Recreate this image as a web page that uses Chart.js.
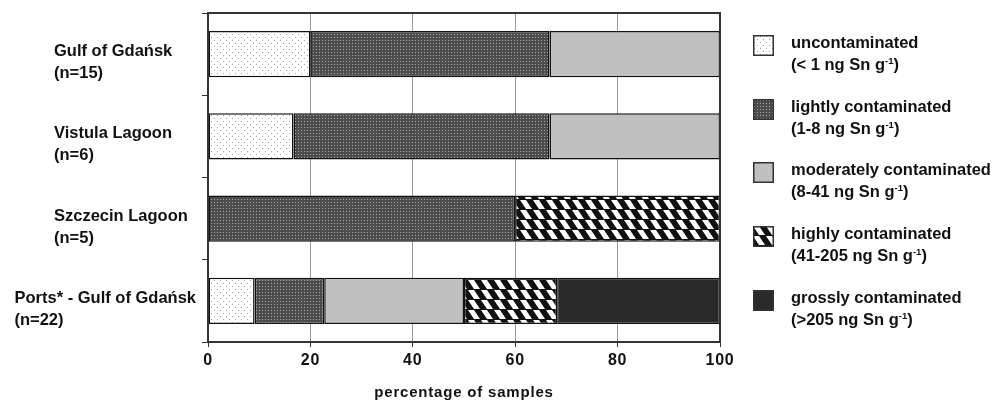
<!DOCTYPE html>
<html><head><meta charset="utf-8">
<script src="https://cdn.jsdelivr.net/npm/chart.js@4.4.0/dist/chart.umd.min.js"></script>
<style>
body{margin:0;background:#fff;}
#wrap{position:relative;width:993px;height:400px;overflow:hidden;}
#legend{position:absolute;left:753px;top:35px;font:bold 16.5px "Liberation Sans",Arial,sans-serif;color:#111;}
.item{position:absolute;left:0;width:240px;height:50px;}
.item canvas{position:absolute;left:0;top:0;}
.txt{position:absolute;left:38px;top:-4px;line-height:22px;white-space:nowrap;}
.txt sup{font-size:9.5px;vertical-align:6px;line-height:0;}
</style></head>
<body>
<div id="wrap"><canvas id="c" width="993" height="400"></canvas><div id="legend"></div></div>
<script>
const categories = [["Gulf of Gdańsk","(n=15)"],["Vistula Lagoon","(n=6)"],["Szczecin Lagoon","(n=5)"],["Ports* - Gulf of Gdańsk","(n=22)"]];
const seriesNames = ["uncontaminated","lightly contaminated","moderately contaminated","highly contaminated","grossly contaminated"];
const seriesRanges = ["< 1","1-8","8-41","41-205",">205"];
const uncontaminated = [20.0, 16.7, null, 9.1];
const lightly = [46.7, 50.0, 60.0, 13.6];
const moderately = [33.3, 33.3, null, 27.3];
const highly = [null, null, 40.0, 18.2];
const grossly = [null, null, null, 31.8];
const xTicks = [0, 20, 40, 60, 80, 100];
const xTitle = "percentage of samples";

function tile(w, h, draw){const c=document.createElement('canvas');c.width=w;c.height=h;const g=c.getContext('2d');draw(g,w,h);return c;}
const tiles = [
  tile(6,6,(g)=>{g.fillStyle='#fff';g.fillRect(0,0,6,6);g.fillStyle='#a0a0a0';g.fillRect(1,1,1,1);g.fillRect(4,4,1,1);}),
  tile(3,3,(g)=>{g.fillStyle='#4c4c4c';g.fillRect(0,0,3,3);g.fillStyle='#a8a8a8';g.fillRect(1,1,1,1);}),
  tile(4,4,(g)=>{g.fillStyle='#c0c0c0';g.fillRect(0,0,4,4);}),
  tile(13,10,(g)=>{g.fillStyle='#111';g.fillRect(0,0,13,10);g.fillStyle='#fff';
    [0,-13,13].forEach(o=>{g.beginPath();g.moveTo(o+0,0);g.lineTo(o+6,0);g.lineTo(o+12,9);g.lineTo(o+6,9);g.closePath();g.fill();});}),
  tile(4,4,(g)=>{g.fillStyle='#2a2a2a';g.fillRect(0,0,4,4);})
];
const ctx = document.getElementById('c').getContext('2d');
const patterns = tiles.map(t=>ctx.createPattern(t,'repeat'));
const seriesValues = [uncontaminated, lightly, moderately, highly, grossly];

const FONT = '"Liberation Sans", Arial, sans-serif';
const spacingPlugin = {
  id:'spacing',
  beforeDraw(chart){ chart.ctx.letterSpacing='0.8px'; },
  afterDatasetsDraw(chart){ chart.ctx.letterSpacing='0px'; }
};
const yLabelPlugin = {
  id:'yLabels',
  afterDraw(chart){
    const c=chart.ctx, y=chart.scales.y, a=chart.chartArea;
    c.save();
    c.letterSpacing='0px';
    c.font='bold 16.5px '+FONT; c.fillStyle='#111'; c.textBaseline='middle'; c.textAlign='left';
    categories.forEach((lines,i)=>{
      const w=Math.max(...lines.map(l=>c.measureText(l).width));
      const x=Math.min(a.left-154, a.left-12-w);
      const py=y.getPixelForValue(i);
      c.fillText(lines[0], x, py-2.5);
      c.fillText(lines[1], x, py+19.5);
    });
    c.strokeStyle='#333'; c.lineWidth=2;
    c.strokeRect(a.left, a.top, a.right-a.left, a.bottom-a.top);
    c.restore();
  }
};

new Chart(ctx,{
  type:'bar',
  data:{
    labels: categories.map(c=>c.join(' ')),
    datasets: seriesNames.map((n,i)=>({label:n,data:seriesValues[i],backgroundColor:patterns[i],borderColor:'#111',borderWidth:1.5,borderSkipped:false,barPercentage:0.56,categoryPercentage:1}))
  },
  options:{
    indexAxis:'y', responsive:false, animation:false,
    layout:{padding:{top:13,right:273,left:0,bottom:0}},
    plugins:{legend:{display:false},tooltip:{enabled:false}},
    scales:{
      x:{stacked:true,min:0,max:100,
        afterBuildTicks(s){s.ticks=xTicks.map(v=>({value:v}));},
        ticks:{font:{family:FONT,size:16,weight:'bold'},color:'#111',padding:4},
        grid:{color:'#999',lineWidth:1,drawTicks:true,tickLength:5,tickColor:'#333'},
        border:{display:true,color:'#333',width:2},
        title:{display:true,text:xTitle,font:{family:FONT,size:15,weight:'bold'},color:'#111',padding:{top:4,bottom:-2}},
        afterFit(s){s.height=58;}
      },
      y:{stacked:true,offset:true,
        ticks:{display:false},
        grid:{offset:true,drawOnChartArea:false,drawTicks:true,tickLength:6,color:'#333'},
        border:{display:true,color:'#333',width:2},
        afterFit(s){s.width=208;}
      }
    }
  },
  plugins:[spacingPlugin, yLabelPlugin]
});

const legend=document.getElementById('legend');
seriesNames.forEach((n,i)=>{
  const it=document.createElement('div'); it.className='item'; it.style.top=(i*63.7)+'px';
  const sw=document.createElement('canvas'); sw.width=21; sw.height=21;
  const g=sw.getContext('2d'); g.fillStyle=g.createPattern(tiles[i],'repeat'); g.fillRect(1,1,19,19);
  g.strokeStyle='#333'; g.lineWidth=1.5; g.strokeRect(0.75,0.75,19.5,19.5);
  it.appendChild(sw);
  const t=document.createElement('div'); t.className='txt';
  t.innerHTML=n+'<br>('+seriesRanges[i].replace('<','&lt;').replace('>','&gt;')+' ng Sn g<sup>-1</sup>)';
  it.appendChild(t); legend.appendChild(it);
});
</script>
</body></html>
